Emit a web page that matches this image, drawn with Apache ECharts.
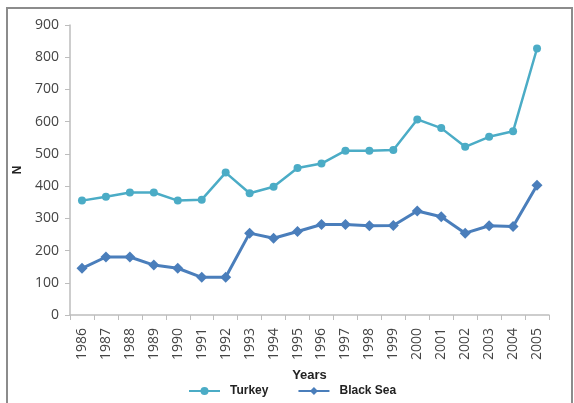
<!DOCTYPE html>
<html>
<head>
<meta charset="utf-8">
<script src="https://cdn.jsdelivr.net/npm/echarts@6/dist/echarts.min.js"></script>
<style>
html,body{margin:0;padding:0;background:#fff;}
#frame{position:absolute;left:6px;top:7px;width:567px;height:400px;border:2px solid #8c8c8c;box-sizing:border-box;}
#chart{position:absolute;left:0;top:0;width:574px;height:403px;}
</style>
</head>
<body>
<div id="frame"></div>
<div id="chart"></div>
<script>
const years = ['1986','1987','1988','1989','1990','1991','1992','1993','1994','1995','1996','1997','1998','1999','2000','2001','2002','2003','2004','2005'];
const turkey = [355, 367, 380, 380, 355, 358, 442, 378, 398, 456, 470, 510, 510, 512, 607, 580, 522, 553, 570, 827];
const blackSea = [145, 180, 180, 155, 145, 117, 117, 254, 238, 259, 281, 281, 277, 278, 323, 305, 254, 277, 275, 403];
const yTicks = [0, 100, 200, 300, 400, 500, 600, 700, 800, 900];

const chart = echarts.init(document.getElementById('chart'));
chart.setOption({
  animation: false,
  grid: {left: 70, right: 25, top: 25, bottom: 88},
  legend: {
    bottom: 1, left: 183, itemGap: 29, itemWidth: 31, itemHeight: 10,
    textStyle: {fontFamily: 'Liberation Sans', fontWeight: 'bold', fontSize: 12, color: '#222', padding: [0, 0, 0, 5]},
    data: ['Turkey', 'Black Sea']
  },
  xAxis: {
    type: 'category', data: years, boundaryGap: true,
    name: 'Years', nameLocation: 'middle', nameGap: 54,
    nameTextStyle: {fontFamily: 'Liberation Sans', fontWeight: 'bold', fontSize: 13, color: '#222'},
    axisLine: {lineStyle: {color: '#bdbdbd', width: 1.5}},
    axisTick: {show: true, length: 5, lineStyle: {color: '#bdbdbd'}},
    axisLabel: {rotate: 90, fontFamily: 'Open Sans', fontSize: 14, color: '#444', margin: 13}
  },
  yAxis: {
    type: 'value', min: 0, max: 900, interval: 100,
    name: 'N', nameLocation: 'middle', nameGap: 44,
    nameTextStyle: {fontFamily: 'Liberation Sans', fontWeight: 'bold', fontSize: 12, color: '#222'},
    axisLine: {show: true, lineStyle: {color: '#bdbdbd', width: 1.5}},
    axisTick: {show: true, length: 5, lineStyle: {color: '#bdbdbd'}},
    splitLine: {show: false},
    axisLabel: {fontFamily: 'Open Sans', fontSize: 14, color: '#444', margin: 11,
      formatter: v => yTicks.includes(v) ? String(v) : ''}
  },
  series: [
    {
      name: 'Turkey', type: 'line', data: turkey,
      symbol: 'circle', symbolSize: 8,
      lineStyle: {color: '#4BACC6', width: 2.5},
      itemStyle: {color: '#4BACC6'}
    },
    {
      name: 'Black Sea', type: 'line', data: blackSea,
      symbol: 'diamond', symbolSize: 11,
      lineStyle: {color: '#4A7EBB', width: 3},
      itemStyle: {color: '#4A7EBB'}
    }
  ]
});
</script>
</body>
</html>
